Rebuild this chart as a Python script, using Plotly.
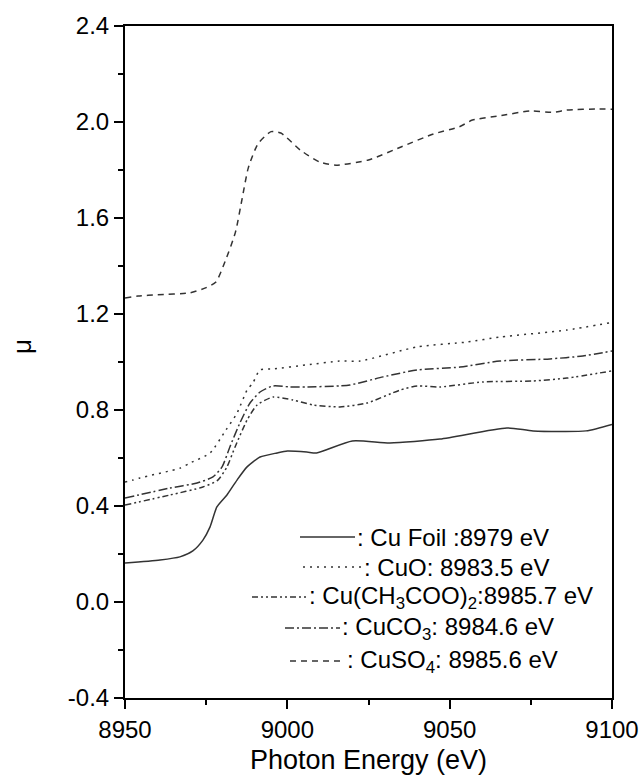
import plotly.graph_objects as go

# ---------------- data ----------------
foil_e = [8950, 8960.8, 8966.9, 8970.9, 8974, 8976.2, 8978.3, 8981.4, 8984.5, 8987.6,
          8991.6, 8996.8, 9000, 9006, 9009, 9020, 9031.6, 9047, 9067.6, 9075.7, 9092, 9100]
foil_mu = [0.162, 0.175, 0.188, 0.213, 0.258, 0.313, 0.396, 0.446, 0.508, 0.563,
           0.604, 0.621, 0.629, 0.625, 0.621, 0.671, 0.663, 0.679, 0.725, 0.713, 0.713, 0.740]

cuo_e = [8950, 8952.5, 8954.6, 8967, 8970, 8976.2, 8981.1, 8984.5, 8987.6, 8989.4, 8991.6,
         8995.6, 9006, 9016, 9022.4, 9040, 9055.3, 9065.5, 9086, 9100]
cuo_mu = [0.500, 0.508, 0.517, 0.558, 0.579, 0.621, 0.717, 0.787, 0.883, 0.913, 0.967,
          0.971, 0.988, 1.004, 1.004, 1.063, 1.083, 1.104, 1.133, 1.165]

ac_e = [8950, 8963.9, 8974, 8978.6, 8981.4, 8983.9, 8987.6, 8990.7, 8995.6, 9001.7,
        9007.9, 9016.2, 9024.5, 9034.7, 9040, 9047, 9060.3, 9075.7, 9086.1, 9100]
ac_mu = [0.404, 0.446, 0.479, 0.508, 0.563, 0.646, 0.758, 0.821, 0.854, 0.842,
         0.821, 0.813, 0.829, 0.883, 0.900, 0.896, 0.917, 0.921, 0.933, 0.963]

co3_e = [8950, 8963.9, 8972.2, 8977.1, 8979.9, 8982.3, 8985.4, 8988.5, 8991.6, 8995.6,
         9000.8, 9006, 9016, 9019.3, 9029.5, 9040, 9053.2, 9065.5, 9080.9, 9091, 9100]
co3_mu = [0.433, 0.475, 0.496, 0.521, 0.563, 0.646, 0.746, 0.829, 0.875, 0.900,
          0.896, 0.896, 0.900, 0.904, 0.938, 0.967, 0.979, 1.004, 1.013, 1.025, 1.046]

so4_e = [8950, 8954, 8960, 8970, 8975, 8978, 8981, 8984, 8986, 8988, 8991, 8995, 8998,
         9004, 9010, 9015, 9025, 9035, 9045, 9053, 9057, 9065, 9075, 9082, 9086, 9096, 9100]
so4_mu = [1.267, 1.275, 1.280, 1.288, 1.310, 1.333, 1.425, 1.540, 1.675, 1.810, 1.910,
          1.960, 1.954, 1.883, 1.833, 1.820, 1.842, 1.896, 1.950, 1.980, 2.008, 2.025,
          2.046, 2.040, 2.050, 2.054, 2.053]

legend_labels = [
    ": Cu Foil :8979 eV",
    ": CuO: 8983.5 eV",
    ": Cu(CH<sub>3</sub>COO)<sub>2</sub>:8985.7 eV",
    ": CuCO<sub>3</sub>: 8984.6 eV",
    ": CuSO<sub>4</sub>: 8985.6 eV",
]

x_ticks = [8950, 9000, 9050, 9100]
y_ticks = [-0.4, 0.0, 0.4, 0.8, 1.2, 1.6, 2.0, 2.4]
x_title = "Photon Energy (eV)"
y_title = "μ"

# ---------------- styles ----------------
LC = "#333333"
dashes = ["solid", "2px,5px", "6px,3px,2px,3px,2px,3px", "9px,3px,2px,3px", "6px,5px"]
FONT = "Liberation Sans, Arial, sans-serif"

fig = go.Figure()
series = [(foil_e, foil_mu), (cuo_e, cuo_mu), (ac_e, ac_mu), (co3_e, co3_mu), (so4_e, so4_mu)]
for (xs, ys), d in zip(series, dashes):
    fig.add_trace(go.Scatter(x=xs, y=ys, mode="lines",
                             line=dict(color=LC, width=1.5, dash=d, shape="spline", smoothing=0.6),
                             showlegend=False, hoverinfo="skip"))

# manual legend (paper coordinates), centered entries like the original
W, H = 642, 780
L, R, T, B = 125, 30, 26, 82
pw, ph = W - L - R, H - T - B


def px(xp):
    return (xp - L) / pw


def py(yp):
    return (H - B - yp) / ph


leg = [  # (y center px, line x0, line x1, text x)
    (537, 300, 355, 355),
    (567, 303, 362, 362),
    (597, 252, 307, 307),
    (628, 285, 340, 340),
    (661, 290, 345, 345),
]
for (yc, x0, x1, xt), d, lab in zip(leg, dashes, legend_labels):
    fig.add_shape(type="line", xref="paper", yref="paper", x0=px(x0), x1=px(x1), y0=py(yc), y1=py(yc),
                  line=dict(color=LC, width=1.5, dash=d))
    fig.add_annotation(xref="paper", yref="paper", x=px(xt), y=py(yc), xanchor="left", yanchor="middle",
                       text=lab, showarrow=False, font=dict(family=FONT, size=24, color="black"))

# y-axis title placed like the original
fig.add_annotation(xref="paper", yref="paper", x=px(22), y=py(347), xanchor="center", yanchor="middle",
                   text=y_title, textangle=-90, showarrow=False, font=dict(family=FONT, size=26, color="black"))

fig.update_layout(
    width=W, height=H,
    margin=dict(l=L, r=R, t=T, b=B, autoexpand=False),
    paper_bgcolor="white", plot_bgcolor="white",
    font=dict(family=FONT, size=24, color="black"),
    showlegend=False,
)
fig.update_xaxes(range=[8950, 9100], tickvals=x_ticks, ticktext=[str(v) for v in x_ticks], automargin=False,
                 showgrid=False, zeroline=False, showline=True, linecolor="black", linewidth=2, mirror=True,
                 ticks="outside", ticklen=9, tickwidth=2, tickcolor="black",
                 minor=dict(dtick=25, tick0=8950, ticks="outside", ticklen=5, tickwidth=2,
                            tickcolor="black", showgrid=False),
                 title=dict(text=x_title, font=dict(size=27), standoff=8))
fig.update_yaxes(range=[-0.4, 2.4], tickvals=y_ticks, ticktext=[f"{v:.1f}" for v in y_ticks], automargin=False,
                 showgrid=False, zeroline=False, showline=True, linecolor="black", linewidth=2, mirror=True,
                 ticks="outside", ticklen=9, tickwidth=2, tickcolor="black",
                 minor=dict(dtick=0.2, tick0=-0.4, ticks="outside", ticklen=5, tickwidth=2,
                            tickcolor="black", showgrid=False))

fig.write_html("out.html", config={"displayModeBar": False},
               post_script="document.body.style.margin='0';document.body.style.overflow='hidden';")
